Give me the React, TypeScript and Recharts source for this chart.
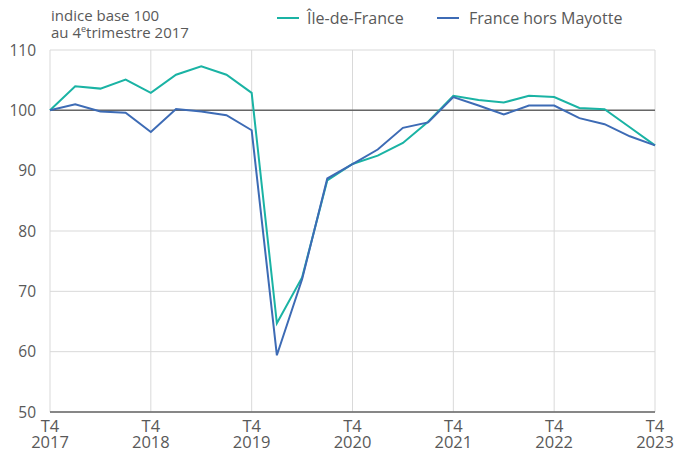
import { LineChart, CartesianGrid, Line, XAxis, YAxis, ReferenceLine, Legend } from 'recharts'

// 25 quarters from T4 2017 to T4 2023
const quarters = [
  'T4 2017', 'T1 2018', 'T2 2018', 'T3 2018', 'T4 2018',
  'T1 2019', 'T2 2019', 'T3 2019', 'T4 2019',
  'T1 2020', 'T2 2020', 'T3 2020', 'T4 2020',
  'T1 2021', 'T2 2021', 'T3 2021', 'T4 2021',
  'T1 2022', 'T2 2022', 'T3 2022', 'T4 2022',
  'T1 2023', 'T2 2023', 'T3 2023', 'T4 2023',
]

const ileDeFrance = [
  100, 104.0, 103.6, 105.1, 102.9,
  105.9, 107.3, 105.9, 102.9,
  64.7, 72.3, 88.4, 91.1,
  92.5, 94.6, 98.1, 102.4,
  101.7, 101.3, 102.4, 102.2,
  100.4, 100.2, 97.2, 94.2,
]

const franceHorsMayotte = [
  100, 101.0, 99.8, 99.6, 96.4,
  100.2, 99.8, 99.2, 96.7,
  59.4, 72.0, 88.7, 91.1,
  93.5, 97.1, 98.0, 102.2,
  100.8, 99.3, 100.8, 100.8,
  98.7, 97.7, 95.7, 94.2,
]

const xTicks = [0, 4, 8, 12, 16, 20, 24]
const yTicks = [50, 60, 70, 80, 90, 100, 110]

const TEAL = '#1ab3a4'
const BLUE = '#3d6bb5'
const TEXT = '#595959'
const FONT = '"Open Sans", sans-serif'

const data = quarters.map((q, i) => ({
  i,
  label: q,
  idf: ileDeFrance[i],
  fr: franceHorsMayotte[i],
}))

const QuarterTick = ({ x, y, payload }: any) => {
  const [q, year] = quarters[payload.value].split(' ')
  return (
    <g fill={TEXT} fontFamily={FONT} fontSize={16.5}>
      <text x={x} y={y + 12} textAnchor="middle">{q}</text>
      <text x={x} y={y + 27.5} textAnchor="middle">{year}</text>
    </g>
  )
}

const TopLegend = () => (
  <div style={{ position: 'relative', width: 689, height: 50, fontFamily: FONT, color: TEXT }}>
    <div style={{ position: 'absolute', left: 51, top: 7, fontSize: 15, lineHeight: '17px' }}>
      <div>indice base 100</div>
      <div>
        au 4<sup style={{ fontSize: 9, verticalAlign: 'top', lineHeight: '10px' }}>e</sup>trimestre 2017
      </div>
    </div>
    <div style={{ position: 'absolute', left: 277, top: 7, fontSize: 16, display: 'flex', alignItems: 'center' }}>
      <span style={{ width: 22, height: 2, background: TEAL, marginRight: 8 }} />
      <span>Île-de-France</span>
    </div>
    <div style={{ position: 'absolute', left: 437, top: 7, fontSize: 16, display: 'flex', alignItems: 'center' }}>
      <span style={{ width: 22, height: 2, background: BLUE, marginRight: 10 }} />
      <span>France hors Mayotte</span>
    </div>
  </div>
)

export default function App() {
  return (
    <div style={{ position: 'absolute', left: 0, top: 0 }}>
      <LineChart width={689} height={452} data={data} margin={{ top: 0, right: 34, bottom: 0, left: 0 }}>
        <CartesianGrid stroke="#d9d9d9" strokeWidth={1} />
        <XAxis
          dataKey="i"
          type="number"
          domain={[0, 24]}
          ticks={xTicks}
          interval={0}
          height={40}
          tick={<QuarterTick />}
          tickLine={false}
          axisLine={{ stroke: '#666666', strokeWidth: 1.5 }}
        />
        <YAxis
          domain={[50, 110]}
          ticks={yTicks}
          interval={0}
          width={50}
          tick={{ fontSize: 15.5, fill: TEXT, fontFamily: FONT }}
          tickLine={false}
          axisLine={false}
          tickMargin={8}
        />
        <ReferenceLine y={100} stroke="#666666" strokeWidth={1.5} />
        <Legend verticalAlign="top" wrapperStyle={{ top: 0, left: 0, width: 689, height: 50 }} content={<TopLegend />} />
        <Line dataKey="idf" name="Île-de-France" stroke={TEAL} strokeWidth={2} dot={false} type="linear" isAnimationActive={false} />
        <Line dataKey="fr" name="France hors Mayotte" stroke={BLUE} strokeWidth={2} dot={false} type="linear" isAnimationActive={false} />
      </LineChart>
    </div>
  )
}
